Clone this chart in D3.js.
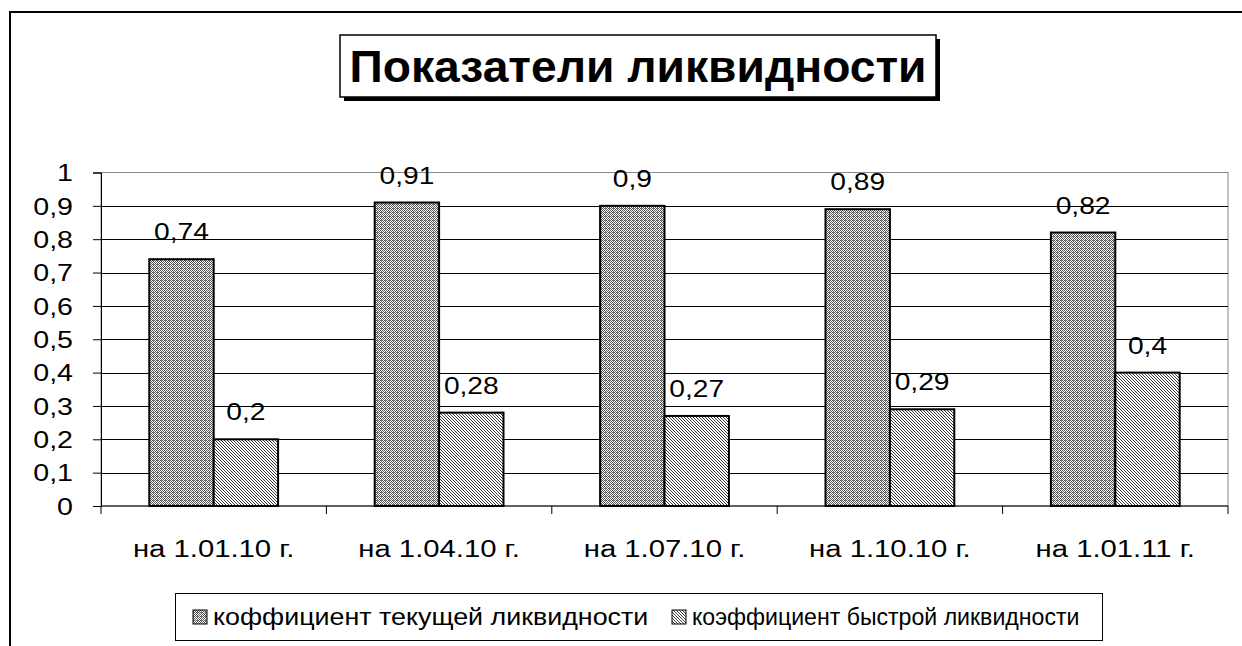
<!DOCTYPE html>
<html><head><meta charset="utf-8">
<script src="https://cdn.jsdelivr.net/npm/d3@7"></script>
<style>
html,body{margin:0;padding:0;background:#fff;}
text{font-family:"Liberation Sans",Arial,sans-serif;}
</style></head>
<body>
<svg id="c" width="1242" height="646"></svg>
<script>
const title = "Показатели ликвидности";
const categories = ["на 1.01.10 г.", "на 1.04.10 г.", "на 1.07.10 г.", "на 1.10.10 г.", "на 1.01.11 г."];
const seriesNames = ["коффициент текущей ликвидности", "коэффициент быстрой ликвидности"];
const currentRatio = [0.74, 0.91, 0.9, 0.89, 0.82];
const quickRatio = [0.2, 0.28, 0.27, 0.29, 0.4];
const yTicks = [0, 0.1, 0.2, 0.3, 0.4, 0.5, 0.6, 0.7, 0.8, 0.9, 1];

const svg = d3.select("#c");
const fmt = v => String(v).replace(".", ",");
// widen glyphs horizontally to match the reference's wide text rendering
function stretch(sel, k) {
  sel.each(function(){
    const w = this.getComputedTextLength();
    d3.select(this).attr("textLength", w*k).attr("lengthAdjust","spacingAndGlyphs");
  });
}
const FS = 23, f = 22/23;

// patterns
const defs = svg.append("defs");
const p1 = defs.append("pattern").attr("id","p1").attr("patternUnits","userSpaceOnUse").attr("width",4).attr("height",4);
p1.append("rect").attr("width",4).attr("height",4).attr("fill","#fff");
[[0,0],[2,0],[1,1],[3,1],[0,2],[2,2],[1,3],[3,3]].forEach(([x,y])=>p1.append("rect").attr("x",x).attr("y",y).attr("width",1).attr("height",1).attr("fill","#555"));
p1.append("rect").attr("x",1).attr("y",0).attr("width",1).attr("height",1).attr("fill","#888");
const p2 = defs.append("pattern").attr("id","p2").attr("patternUnits","userSpaceOnUse").attr("width",3).attr("height",3);
p2.append("rect").attr("width",3).attr("height",3).attr("fill","#fff");
p2.append("path").attr("d","M-1,-1 L4,4 M-1,2 L1,4 M2,-1 L4,1").attr("stroke","#222").attr("stroke-width",0.9);
const patterns = ["url(#p1)","url(#p2)"];

// outer chart border
svg.append("rect").attr("x",10).attr("y",12).attr("width",1400).attr("height",800)
  .attr("fill","none").attr("stroke","#000").attr("stroke-width",2);

const L = 101, R = 1228, T = 172.5, B = 506;
const x = d3.scaleBand().domain(categories).range([L, R]).paddingInner(0).paddingOuter(0);
const y = d3.scaleLinear().domain([0, 1]).range([B, T]);

// plot area frame
svg.append("rect").attr("x",L).attr("y",T).attr("width",R-L).attr("height",B-T)
  .attr("fill","#fff").attr("stroke","#888").attr("stroke-width",1);

// gridlines
svg.append("g").selectAll("line").data(yTicks.filter(d=>d>0 && d<1)).join("line")
  .attr("x1",L).attr("x2",R).attr("y1",d=>Math.round(y(d))+0.5).attr("y2",d=>Math.round(y(d))+0.5)
  .attr("stroke","#000").attr("stroke-width",1);

// bars
const series = [currentRatio, quickRatio];
const barW = x.bandwidth() / (2 + 1.5);
series.forEach((vals, si) => {
  const g = svg.append("g");
  g.selectAll("rect").data(vals).join("rect")
    .attr("x",(d,i)=> x(categories[i]) + x.bandwidth()/2 - barW + si*barW)
    .attr("y",d=>y(d)).attr("width",barW).attr("height",d=>B-y(d))
    .attr("fill",patterns[si]).attr("stroke","#000").attr("stroke-width",2);
  const t = g.selectAll("text").data(vals).join("text")
    .attr("x",(d,i)=> x(categories[i]) + x.bandwidth()/2 - barW/2 + si*barW)
    .attr("y",d=>y(d)-19).attr("text-anchor","middle")
    .attr("font-size",FS).attr("fill","#000").text(fmt);
  stretch(t, 1.28*f);
});

// y axis
const yAxis = d3.axisLeft(y).tickValues(yTicks).tickSize(8).tickPadding(20).tickFormat(fmt);
const ya = svg.append("g").attr("transform",`translate(${L},0)`).call(yAxis);
ya.select(".domain").attr("stroke","#000");
ya.selectAll(".tick line").attr("stroke","#000");
ya.selectAll("text").attr("font-size",FS).attr("fill","#000").attr("font-family","Liberation Sans, Arial, sans-serif").attr("dy","0.36em");
stretch(ya.selectAll("text"), 1.3*f);

// x axis
const xa = svg.append("g").attr("transform",`translate(0,${B})`);
xa.append("line").attr("x1",L).attr("x2",R).attr("stroke","#000");
xa.selectAll("line.t").data(d3.range(categories.length+1)).join("line").attr("class","t")
  .attr("x1",i=>L + i*x.step()).attr("x2",i=>L + i*x.step()).attr("y1",0).attr("y2",8).attr("stroke","#000");
const xt = xa.selectAll("text").data(categories).join("text")
  .attr("x",d=>x(d)+x.bandwidth()/2).attr("y",51).attr("text-anchor","middle")
  .attr("font-size",FS).attr("fill","#000").text(d=>d);
stretch(xt, 1.33*f);

// title
const tg = svg.append("g");
tg.append("rect").attr("x",344).attr("y",39).attr("width",596).attr("height",62).attr("fill","#000");
tg.append("rect").attr("x",340).attr("y",35).attr("width",596).attr("height",62).attr("fill","#fff").attr("stroke","#000").attr("stroke-width",1.5);
const tt = tg.append("text").attr("x",638).attr("y",82).attr("text-anchor","middle").attr("font-size",44)
  .attr("font-weight","bold").attr("fill","#000").text(title);
stretch(tt, 1.05);

// legend
const lg = svg.append("g");
lg.append("rect").attr("x",175.5).attr("y",593.5).attr("width",927).attr("height",47).attr("fill","#fff").attr("stroke","#000");
const legX = [193, 672];
const legK = [1.22*f, 1.05*f];
seriesNames.forEach((n,i)=>{
  lg.append("rect").attr("x",legX[i]).attr("y",610).attr("width",14).attr("height",14).attr("fill",patterns[i]).attr("stroke","#000");
  const lt = lg.append("text").attr("x",legX[i]+20).attr("y",625).attr("font-size",FS).attr("fill","#000").text(n);
  stretch(lt, legK[i]);
});
</script>
</body></html>
